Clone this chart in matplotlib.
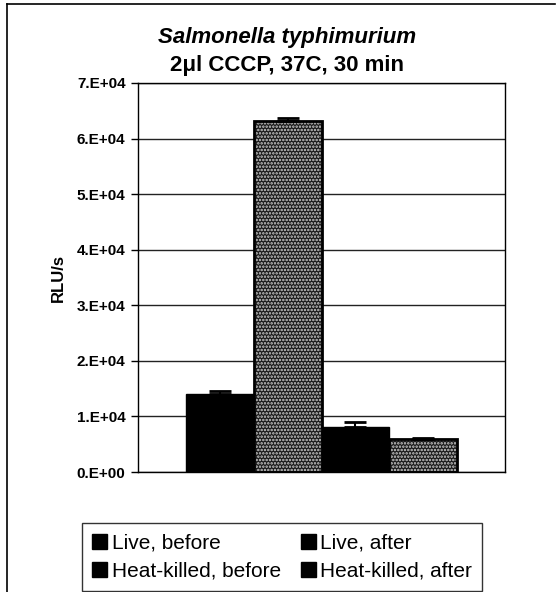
import numpy as np
import matplotlib
matplotlib.use('Agg')
import matplotlib.pyplot as plt
from matplotlib.lines import Line2D

plt.rcParams['font.family'] = ['Liberation Sans', 'DejaVu Sans']
plt.rcParams['hatch.linewidth'] = 1.2

# Data
labels = ['Live, before', 'Live, after', 'Heat-killed, before', 'Heat-killed, after']
values = [1.40e4, 6.31e4, 0.81e4, 0.59e4]
errors = [600, 600, 900, 300]
stippled = [False, True, False, True]
yticks = [0, 1e4, 2e4, 3e4, 4e4, 5e4, 6e4, 7e4]
ytick_labels = ['0.E+00', '1.E+04', '2.E+04', '3.E+04', '4.E+04', '5.E+04', '6.E+04', '7.E+04']

fig = plt.figure(figsize=(5.59, 5.92), dpi=100)
ax = fig.add_axes([0.2469, 0.2027, 0.6565, 0.6571])

# Bars grouped around the centre of the axes
w = 0.184
x = 0.5 + (np.arange(len(values)) - (len(values) - 1) / 2) * w

for xi, v, e, st in zip(x, values, errors, stippled):
    if st:
        ax.bar(xi, v, width=w, color='#1a1a1a', edgecolor='#d0d0d0', hatch='.....',
               linewidth=0, zorder=3)
        ax.bar(xi, v, width=w, fill=False, edgecolor='black', linewidth=2, zorder=4)
    else:
        ax.bar(xi, v, width=w, color='black', edgecolor='black', linewidth=1, zorder=3)
    ax.errorbar(xi, v, yerr=[[0], [e]], fmt='none', ecolor='black', elinewidth=1.5,
                capsize=8, capthick=2, zorder=5)

ax.set_xlim(0, 1)
ax.set_ylim(0, 7e4)
ax.set_xticks([])
ax.set_yticks(yticks)
ax.set_yticklabels(ytick_labels, fontsize=11, fontweight='bold')
ax.tick_params(axis='y', direction='out', length=5, width=1, pad=4)
ax.yaxis.grid(True, color='#222222', linewidth=1)
ax.set_axisbelow(True)
for s in ax.spines.values():
    s.set_color('black')
    s.set_linewidth(1)

ax.set_ylabel('RLU/s', fontsize=12, fontweight='bold', labelpad=8)

# Title
fig.text(0.514, 0.936, 'Salmonella typhimurium', ha='center', va='center',
         fontsize=16, fontweight='bold', fontstyle='italic')
fig.text(0.514, 0.890, '2\u03bcl CCCP, 37C, 30 min', ha='center', va='center',
         fontsize=16, fontweight='bold')

# Legend (row-major order like the original: reorder for matplotlib's column fill)
handles = []
for st in stippled:
    handles.append(plt.Rectangle((0, 0), 1, 1, facecolor='black', edgecolor='black',
                                 hatch='...' if st else None))
order = [0, 2, 1, 3]
leg = fig.legend([handles[i] for i in order], [labels[i] for i in order], ncol=2,
                 loc='upper left', bbox_to_anchor=(0.1467, 1 - 523 / 592),
                 fontsize=15, frameon=True, fancybox=False,
                 edgecolor='black', handlelength=0.72, handleheight=0.72,
                 handletextpad=0.2, columnspacing=0.95, borderpad=0.5,
                 labelspacing=0.45, borderaxespad=0)
leg.get_frame().set_linewidth(1)

# Outer chart frame (left and top edges visible)
fig.add_artist(Line2D([0.0125, 0.0125], [0, 0.9932], color='black', linewidth=1.2))
fig.add_artist(Line2D([0.0125, 0.993], [0.9932, 0.9932], color='black', linewidth=1.2))

fig.savefig('out.png', dpi=100)
